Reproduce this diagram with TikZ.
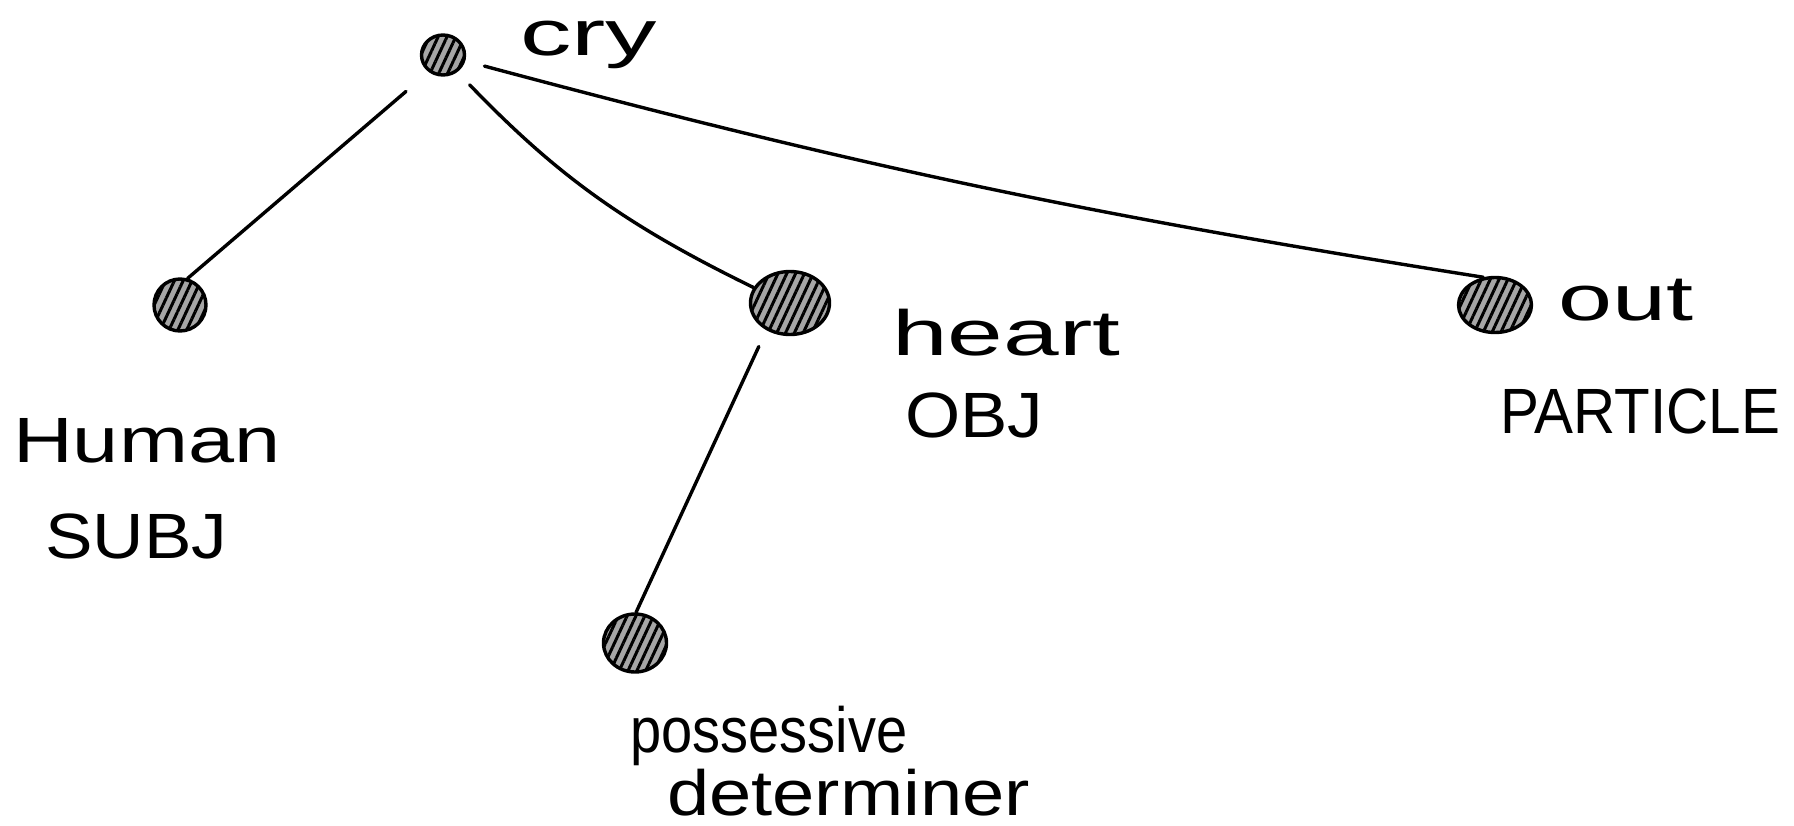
\documentclass[tikz,border=0pt]{standalone}
\usepackage{fontspec}
\setmainfont{Liberation Sans}
\usetikzlibrary{shapes.geometric,patterns.meta}
\newcommand{\fitw}[2]{\resizebox{#1}{\height}{#2}}
\begin{document}
\begin{tikzpicture}[x=1pt,y=-1pt,
  dot/.style={ellipse,draw=black,line width=3.4pt,inner sep=0pt,
    preaction={fill=gray!70},
    pattern={Lines[angle=65,distance=8pt,line width=3pt]},pattern color=black},
  lbl/.style={anchor=base west,inner sep=0pt,font=\fontsize{64}{70}\selectfont},
  edge/.style={line width=3.4pt,line cap=round}]
\useasboundingbox[fill=white] (0,0) rectangle (1794,825);
% nodes
\node[dot,minimum width=43pt,minimum height=40pt] (cry) at (443,55) {};
\node[dot,minimum width=52pt,minimum height=52pt] (human) at (180,305) {};
\node[dot,minimum width=79pt,minimum height=63pt] (heart) at (790,303) {};
\node[dot,minimum width=73pt,minimum height=55pt] (out) at (1495,305) {};
\node[dot,minimum width=63pt,minimum height=58pt] (poss) at (635,643) {};
% labels
\node[lbl] (tcry) at (520,55) {\fitw{137pt}{cry}};
\node[lbl] (thuman) at (13,462) {\fitw{267pt}{Human}};
\node[lbl] (tsubj) at (45,558) {\fitw{182pt}{SUBJ}};
\node[lbl] (theart) at (892,355) {\fitw{228pt}{heart}};
\node[lbl] (tobj) at (905,437) {\fitw{138pt}{OBJ}};
\node[lbl] (tout) at (1558,320) {\fitw{135pt}{out}};
\node[lbl] (tpart) at (1500,433) {\fitw{280pt}{PARTICLE}};
\node[lbl] (tposs) at (630,752) {\fitw{277pt}{possessive}};
\node[lbl] (tdet) at (667,815) {\fitw{363pt}{determiner}};
% edges
\draw[edge,shorten <=30pt] (cry.230) -- (human.74);
\draw[edge,shorten <=18pt] (cry.310) to[bend right=10] (heart.157);
\draw[edge,shorten <=20pt] (cry.345) to[bend right=3] (out.113);
\draw[edge,shorten <=18pt] (heart.229) -- (poss.88);
\end{tikzpicture}
\end{document}
